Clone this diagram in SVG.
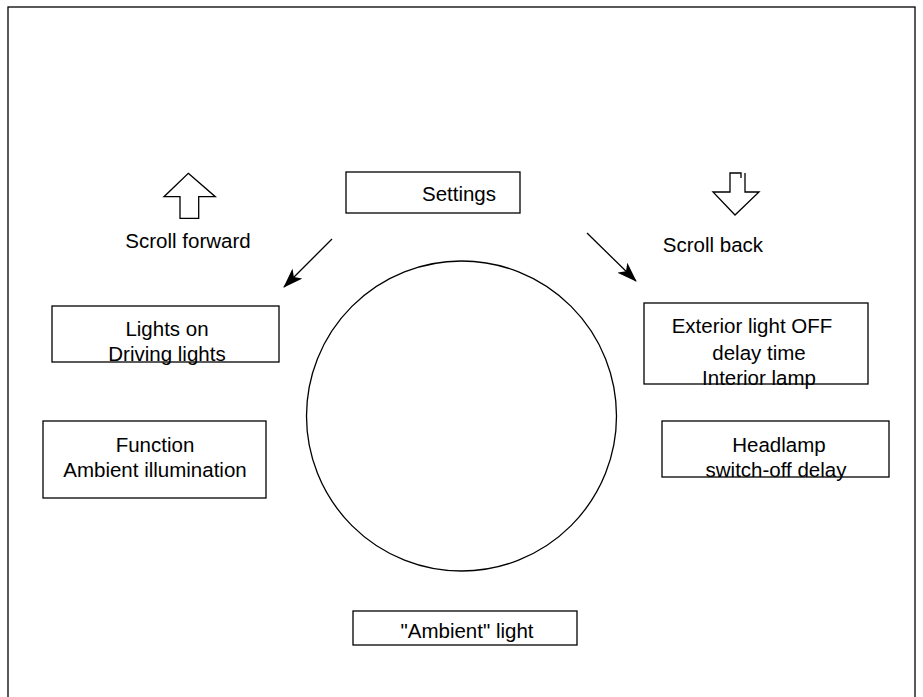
<svg xmlns="http://www.w3.org/2000/svg" width="923" height="697" viewBox="0 0 923 697">
<defs>
<style>
.box{fill:#fff;stroke:#000;stroke-width:1.3}
.t{font-family:"Liberation Sans",Arial,sans-serif;font-size:20.5px;fill:#000;text-anchor:middle}
.ln{fill:none;stroke:#000;stroke-width:1.3}
</style>
<marker id="ah" viewBox="0 0 20 14" refX="19" refY="7" markerWidth="20" markerHeight="14" markerUnits="userSpaceOnUse" orient="auto">
<path d="M0,0 L20,7 L0,14 L5,7 Z" fill="#000"/>
</marker>
</defs>
<rect width="923" height="697" fill="#fff"/>
<rect x="8" y="7" width="907" height="700" fill="none" stroke="#000" stroke-width="1.3"/>
<g id="circle"><circle cx="461.5" cy="416" r="155" class="ln"/></g>
<g id="settings"><rect class="box" x="346" y="172" width="174" height="41"/><text class="t" x="459" y="201">Settings</text></g>
<g id="lights-on"><rect class="box" x="52" y="306" width="227" height="56"/><text class="t" x="167" y="336">Lights on</text><text class="t" x="167" y="361">Driving lights</text></g>
<g id="function"><rect class="box" x="43" y="421" width="223" height="77"/><text class="t" x="155" y="452">Function</text><text class="t" x="155" y="477">Ambient illumination</text></g>
<g id="exterior"><rect class="box" x="644" y="303" width="224" height="81"/><text class="t" x="752" y="333">Exterior light OFF</text><text class="t" x="759" y="360">delay time</text><text class="t" x="759" y="385">Interior lamp</text></g>
<g id="headlamp"><rect class="box" x="662" y="421" width="227" height="56"/><text class="t" x="779" y="452">Headlamp</text><text class="t" x="776" y="477">switch-off delay</text></g>
<g id="ambient"><rect class="box" x="353" y="611" width="224" height="34"/><text class="t" x="467" y="638">"Ambient" light</text></g>
<g id="scroll-forward"><polygon class="ln" points="188.3,173.3 215.3,196.7 198.7,196.7 198.7,218.3 180,218.3 180,196.7 164,196.7"/><text class="t" x="188" y="248">Scroll forward</text></g>
<g id="scroll-back"><path class="ln" d="M741,178 V173 H730 V192 H713 L735,215 L759,192 H745 V173"/><text class="t" x="713" y="252">Scroll back</text></g>
<g id="connectors">
<line class="ln" x1="332" y1="239" x2="284" y2="287" marker-end="url(#ah)"/>
<line class="ln" x1="587" y1="233" x2="636" y2="281" marker-end="url(#ah)"/>
</g>
</svg>
